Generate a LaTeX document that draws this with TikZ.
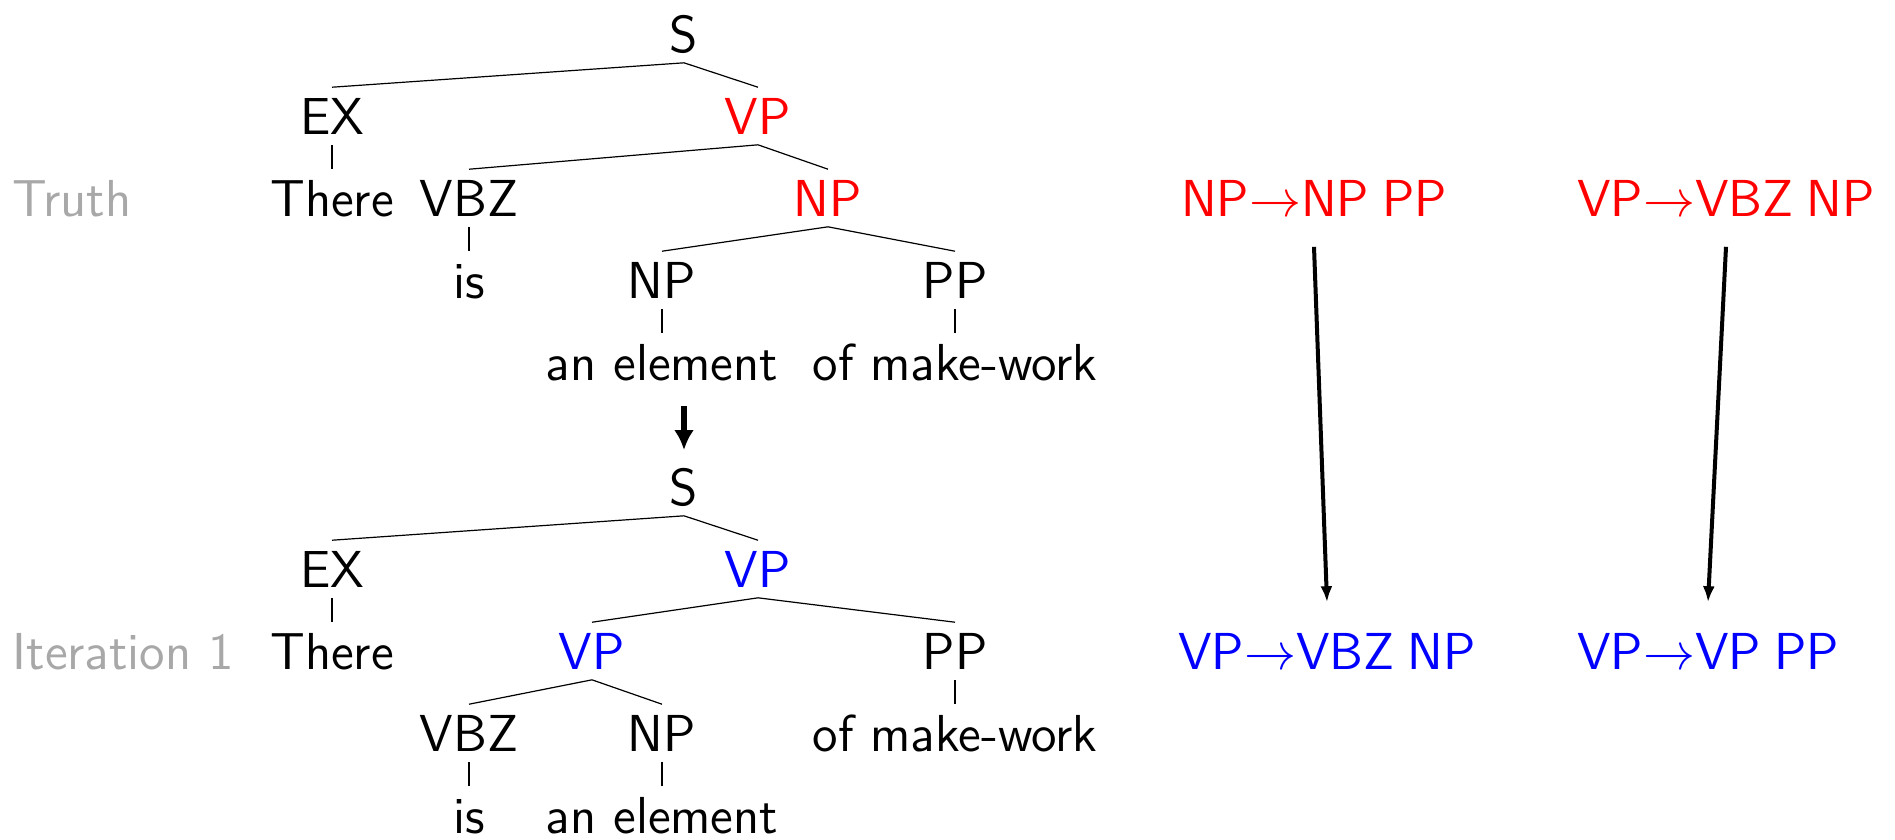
\RequirePackage{fix-cm}
\documentclass[tikz,border=0pt]{standalone}
\usepackage{fontspec}
\usetikzlibrary{arrows.meta}
\definecolor{lbl}{gray}{0.66}
\definecolor{tred}{RGB}{255,0,0}
\definecolor{tblue}{RGB}{0,0,255}
\newcommand{\rsp}{\hspace{0.25em}}
\tikzset{
  every node/.style={font=\fontsize{13}{15}\selectfont\sffamily},
  tn/.style={anchor=base, inner sep=2.5pt, text height=9pt, text depth=0pt},
  rule/.style={anchor=base, inner xsep=0pt, inner ysep=7.5pt, text height=9pt, text depth=0pt},
  lab/.style={anchor=base west, inner sep=0pt, text=lbl},
  edge/.style={line width=0.3pt},
  bigarrow/.style={line width=1pt, -{Latex[length=4pt,width=3pt]}},
  midarrow/.style={line width=1.5pt, -{Latex[length=5pt,width=5pt]}}
}
\begin{document}
\begin{tikzpicture}[x=0.25pt, y=-0.25pt]
\useasboundingbox (0,0) rectangle (1895,839);
% labels
\node[lab] (truth) at (12,216) {Truth};
\node[lab] (iter) at (12,669) {Iteration 1};
% top tree
\node[tn] (S1) at (684,52) {S};
\node[tn] (EX1) at (332,134) {EX};
\node[tn, text=tred] (VP1) at (758,134) {VP};
\node[tn] (T1) at (332,216) {There};
\node[tn] (VBZ1) at (469,216) {VBZ};
\node[tn, text=tred] (NP1) at (828,216) {NP};
\node[tn] (is1) at (469,298) {is};
\node[tn] (NPa) at (662,298) {NP};
\node[tn] (PPa) at (955,298) {PP};
\node[tn] (ae1) at (662,380) {an element};
\node[tn] (mw1) at (955,380) {of make-work};
\draw[edge] (S1.south) -- (EX1.north);
\draw[edge] (S1.south) -- (VP1.north);
\draw[edge] (EX1.south) -- (T1.north);
\draw[edge] (VP1.south) -- (VBZ1.north);
\draw[edge] (VP1.south) -- (NP1.north);
\draw[edge] (VBZ1.south) -- (is1.north);
\draw[edge] (NP1.south) -- (NPa.north);
\draw[edge] (NP1.south) -- (PPa.north);
\draw[edge] (NPa.south) -- (ae1.north);
\draw[edge] (PPa.south) -- (mw1.north);
% middle arrow
\coordinate (m1) at (684,406);
\coordinate (m2) at (684,450);
\draw[midarrow] (m1) -- (m2);
% lower tree
\node[tn] (S2) at (684,505) {S};
\node[tn] (EX2) at (332,587) {EX};
\node[tn, text=tblue] (VP2) at (758,587) {VP};
\node[tn] (T2) at (332,669) {There};
\node[tn, text=tblue] (VP3) at (592,669) {VP};
\node[tn] (PP2) at (955,669) {PP};
\node[tn] (VBZ2) at (469,751) {VBZ};
\node[tn] (NP2) at (662,751) {NP};
\node[tn] (mw2) at (955,751) {of make-work};
\node[tn] (is2) at (469,833) {is};
\node[tn] (ae2) at (662,833) {an element};
\draw[edge] (S2.south) -- (EX2.north);
\draw[edge] (S2.south) -- (VP2.north);
\draw[edge] (EX2.south) -- (T2.north);
\draw[edge] (VP2.south) -- (VP3.north);
\draw[edge] (VP2.south) -- (PP2.north);
\draw[edge] (VP3.south) -- (VBZ2.north);
\draw[edge] (VP3.south) -- (NP2.north);
\draw[edge] (PP2.south) -- (mw2.north);
\draw[edge] (VBZ2.south) -- (is2.north);
\draw[edge] (NP2.south) -- (ae2.north);
% rules
\node[rule, text=tred] (r1) at (1314,216) {NP$\rightarrow$NP\rsp PP};
\node[rule, text=tred] (r2) at (1726,216) {VP$\rightarrow$VBZ\rsp NP};
\node[rule, text=tblue] (r3) at (1327,669) {VP$\rightarrow$VBZ\rsp NP};
\node[rule, text=tblue] (r4) at (1708,669) {VP$\rightarrow$VP\rsp PP};
\draw[bigarrow] (r1.south) -- (r3.north);
\draw[bigarrow] (r2.south) -- (r4.north);
\end{tikzpicture}
\end{document}
